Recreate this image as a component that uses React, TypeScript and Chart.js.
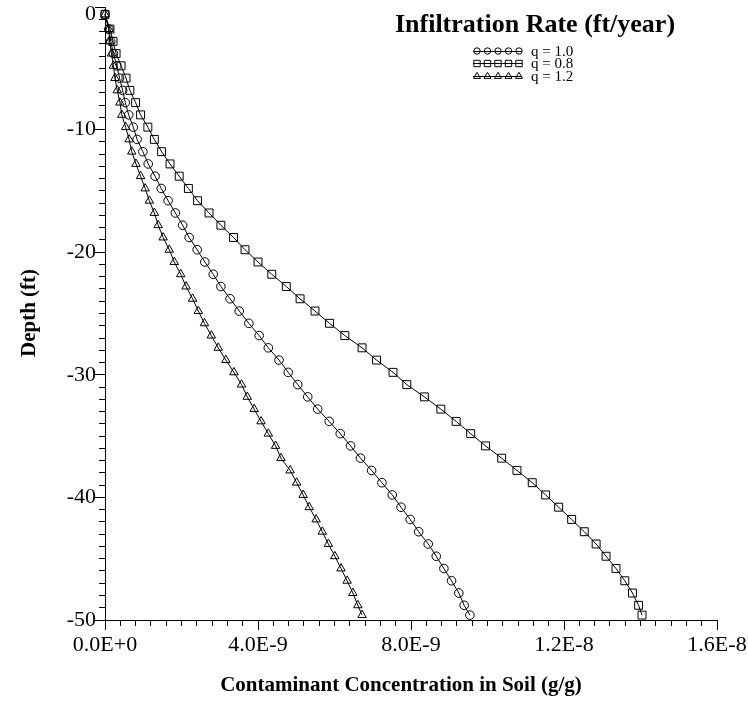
import React, { useEffect, useRef } from 'react';
import { Chart, registerables } from 'chart.js';

Chart.register(...registerables);

const FONT = "'Liberation Serif', 'Times New Roman', serif";

// Depth below surface (ft)
const depthFt = [
  -0.6, -1.8, -2.8, -3.8, -4.8, -5.8, -6.8, -7.8, -8.8, -9.8,
  -10.8, -11.8, -12.8, -13.8, -14.8, -15.8, -16.8, -17.8, -18.8, -19.8,
  -20.8, -21.8, -22.8, -23.8, -24.8, -25.8, -26.8, -27.8, -28.8, -29.8,
  -30.8, -31.8, -32.8, -33.8, -34.8, -35.8, -36.8, -37.8, -38.8, -39.8,
  -40.8, -41.8, -42.8, -43.8, -44.8, -45.8, -46.8, -47.8, -48.8, -49.6,
];

// Concentrations in units of 1E-9 g/g
const concQ10 = [
  0, 0.10, 0.15, 0.22, 0.31, 0.38, 0.46, 0.53, 0.62, 0.74,
  0.84, 0.99, 1.13, 1.31, 1.47, 1.65, 1.84, 2.03, 2.20, 2.41,
  2.61, 2.83, 3.03, 3.27, 3.51, 3.76, 4.03, 4.27, 4.55, 4.79,
  5.04, 5.30, 5.56, 5.86, 6.15, 6.42, 6.68, 6.97, 7.24, 7.51,
  7.74, 7.98, 8.20, 8.45, 8.66, 8.86, 9.06, 9.25, 9.39, 9.54,
];
const concQ08 = [
  0, 0.13, 0.21, 0.29, 0.42, 0.55, 0.65, 0.80, 0.93, 1.12,
  1.29, 1.48, 1.70, 1.94, 2.18, 2.42, 2.72, 3.03, 3.36, 3.66,
  4.00, 4.36, 4.74, 5.10, 5.49, 5.87, 6.27, 6.72, 7.10, 7.53,
  7.89, 8.35, 8.78, 9.18, 9.56, 9.95, 10.37, 10.77, 11.17, 11.52,
  11.86, 12.20, 12.53, 12.84, 13.10, 13.36, 13.59, 13.79, 13.95, 14.04,
];
const concQ12 = [
  0, 0.10, 0.12, 0.17, 0.22, 0.26, 0.32, 0.39, 0.44, 0.54,
  0.63, 0.70, 0.81, 0.93, 1.05, 1.16, 1.29, 1.39, 1.52, 1.68,
  1.81, 1.98, 2.12, 2.29, 2.44, 2.60, 2.78, 2.96, 3.16, 3.37,
  3.57, 3.72, 3.90, 4.08, 4.27, 4.46, 4.60, 4.84, 5.01, 5.18,
  5.34, 5.52, 5.68, 5.84, 6.01, 6.17, 6.33, 6.48, 6.61, 6.72,
];

const seriesLabels = ['q = 1.0', 'q = 0.8', 'q = 1.2'];
const seriesValues = [concQ10, concQ08, concQ12];
const seriesStyles = ['circle', 'rect', 'triangle'];
const seriesRadius = [4.3, 5.6, 4.9];

const xMajorTicks = [0, 4, 8, 12, 16];
const xTickLabels = ['0.0E+0', '4.0E-9', '8.0E-9', '1.2E-8', '1.6E-8'];
const yMajorTicks = [0, -10, -20, -30, -40, -50];
const yTickLabels = ['0', '-10', '-20', '-30', '-40', '-50'];

const chartTitle = 'Infiltration Rate (ft/year)';
const xAxisTitle = 'Contaminant Concentration in Soil (g/g)';
const yAxisTitle = 'Depth (ft)';

function findLabel(v: number, ticks: number[], labels: string[]) {
  for (let i = 0; i < ticks.length; i++) {
    if (Math.abs(v - ticks[i]) < 1e-6) return labels[i];
  }
  return '';
}

function align(p: number) {
  return Math.round(p - 0.5) + 0.5;
}

function drawMarker(ctx: CanvasRenderingContext2D, style: string, x: number, y: number, r: number) {
  ctx.beginPath();
  if (style === 'circle') {
    ctx.arc(x, y, r, 0, Math.PI * 2);
  } else if (style === 'rect') {
    ctx.rect(x - r, y - r, 2 * r, 2 * r);
  } else {
    ctx.moveTo(x, y - r * 1.15);
    ctx.lineTo(x + r * 1.1, y + r * 0.75);
    ctx.lineTo(x - r * 1.1, y + r * 0.75);
    ctx.closePath();
  }
  ctx.stroke();
}

const decorPlugin = {
  id: 'decor',
  afterDraw(chart: any) {
    const { ctx, chartArea, scales } = chart;
    const xs = scales.x;
    const ys = scales.y;
    ctx.save();
    ctx.strokeStyle = '#000';
    ctx.fillStyle = '#000';
    ctx.lineWidth = 1;

    // longer major tick marks
    xMajorTicks.forEach((v) => {
      const px = align(xs.getPixelForValue(v));
      ctx.beginPath();
      ctx.moveTo(px, chartArea.bottom);
      ctx.lineTo(px, chartArea.bottom + 10);
      ctx.stroke();
    });
    yMajorTicks.forEach((v) => {
      const py = align(ys.getPixelForValue(v));
      ctx.beginPath();
      ctx.moveTo(chartArea.left - 10, py);
      ctx.lineTo(chartArea.left, py);
      ctx.stroke();
    });

    // top y tick label, nudged down so it is not clipped by the page edge
    ctx.font = `22px ${FONT}`;
    ctx.textAlign = 'right';
    ctx.textBaseline = 'middle';
    ctx.fillText(yTickLabels[0], chartArea.left - 9, ys.getPixelForValue(yMajorTicks[0]) + 7);

    // chart title
    ctx.font = `bold 26px ${FONT}`;
    ctx.textAlign = 'center';
    ctx.textBaseline = 'alphabetic';
    ctx.fillText(chartTitle, 535, 32);

    // legend
    const rowY = [51, 63.5, 76];
    ctx.font = `15px ${FONT}`;
    ctx.textAlign = 'left';
    ctx.textBaseline = 'middle';
    seriesLabels.forEach((label, i) => {
      const y = rowY[i];
      ctx.beginPath();
      ctx.moveTo(473, align(y));
      ctx.lineTo(522, align(y));
      ctx.stroke();
      for (let k = 0; k < 5; k++) {
        drawMarker(ctx, seriesStyles[i], 477 + k * 10.5, y, 3.2);
      }
      ctx.fillText(label, 531, y + 1);
    });

    // axis titles
    ctx.font = `bold 21px ${FONT}`;
    ctx.textAlign = 'center';
    ctx.textBaseline = 'middle';
    ctx.fillText(xAxisTitle, 401, 686);
    ctx.save();
    ctx.translate(30, 313);
    ctx.rotate(-Math.PI / 2);
    ctx.fillText(yAxisTitle, 0, 0);
    ctx.restore();

    ctx.restore();
  },
};

export default function App() {
  const ref = useRef<HTMLCanvasElement>(null);

  useEffect(() => {
    const canvas = ref.current;
    if (!canvas) return;

    const datasets = seriesLabels.map((label, i) => ({
      label,
      data: depthFt.map((d, j) => ({ x: seriesValues[i][j], y: d })),
      showLine: true,
      borderColor: '#000',
      borderWidth: 1,
      tension: 0,
      pointStyle: seriesStyles[i],
      pointRadius: seriesRadius[i],
      pointBorderColor: '#000',
      pointBorderWidth: 1,
      pointBackgroundColor: 'rgba(0,0,0,0)',
      clip: false,
    }));

    const chart = new Chart(canvas, {
      type: 'scatter',
      data: { datasets } as any,
      options: {
        responsive: false,
        devicePixelRatio: 1,
        animation: false,
        layout: { padding: { top: 7, right: 31, bottom: 0, left: 0 } },
        plugins: {
          legend: { display: false },
          title: { display: false },
          tooltip: { enabled: false },
        },
        scales: {
          x: {
            type: 'linear',
            position: 'bottom',
            min: 0,
            max: 16,
            grid: { display: true, drawOnChartArea: false, drawTicks: true, tickLength: 6, color: '#000', lineWidth: 1 },
            border: { display: true, color: '#000', width: 1 },
            ticks: {
              stepSize: 0.4,
              maxTicksLimit: 100,
              autoSkip: false,
              maxRotation: 0,
              minRotation: 0,
              padding: 6,
              color: '#000',
              font: { family: FONT, size: 22 },
              callback: (v: any) => findLabel(Number(v), xMajorTicks, xTickLabels),
            },
            afterFit: (s: any) => {
              s.height = 88;
              s.paddingLeft = 0;
              s.paddingRight = 0;
            },
          },
          y: {
            type: 'linear',
            min: -50,
            max: 0,
            grid: { display: true, drawOnChartArea: false, drawTicks: true, tickLength: 6, color: '#000', lineWidth: 1 },
            border: { display: true, color: '#000', width: 1 },
            ticks: {
              stepSize: 1,
              maxTicksLimit: 100,
              autoSkip: false,
              padding: 3,
              color: '#000',
              font: { family: FONT, size: 22 },
              callback: (v: any) => (Number(v) === yMajorTicks[0] ? '' : findLabel(Number(v), yMajorTicks, yTickLabels)),
            },
            afterFit: (s: any) => {
              s.width = 105;
              s.paddingTop = 0;
              s.paddingBottom = 0;
            },
          },
        },
      } as any,
      plugins: [decorPlugin],
    });

    return () => chart.destroy();
  }, []);

  return (
    <div style={{ position: 'absolute', left: 0, top: 0, width: 748, height: 708, background: '#fff' }}>
      <canvas ref={ref} width={748} height={708} style={{ display: 'block', width: 748, height: 708 }} />
    </div>
  );
}
